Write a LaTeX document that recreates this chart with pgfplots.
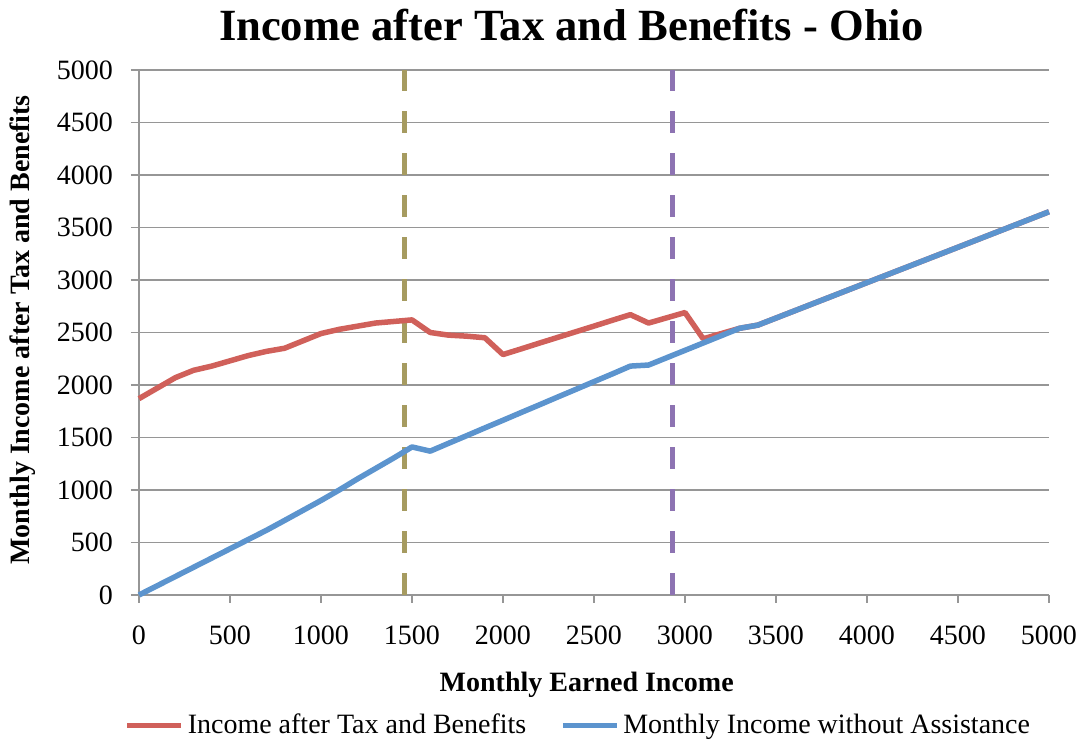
\documentclass[border=0pt]{standalone}
\usepackage{pgfplots}
\pgfplotsset{compat=1.18}
\usepackage{fontspec}
\setmainfont{Liberation Serif}
\definecolor{redline}{RGB}{208,96,90}
\definecolor{blueline}{RGB}{92,148,206}
\definecolor{oliveline}{RGB}{166,155,96}
\definecolor{purpleline}{RGB}{141,115,178}
\definecolor{gridgray}{RGB}{150,150,150}
\begin{document}
\begin{tikzpicture}
\useasboundingbox (0,0) rectangle (541pt,371pt);
\begin{axis}[
  at={(69.5pt,73.5pt)}, anchor=south west,
  scale only axis, width=455pt, height=262.5pt,
  xmin=0, xmax=5000, ymin=0, ymax=5000,
  xtick={0,500,...,5000}, ytick={0,500,...,5000},
  /pgf/number format/1000 sep={},
  /pgf/number format/assume math mode=true,
  axis x line*=bottom, axis y line*=left,
  axis line style={gridgray, line width=0.75pt},
  every tick/.style={gridgray, line width=0.75pt},
  tick align=outside, major tick length=4pt,
  ymajorgrids, major grid style={gridgray, line width=0.75pt},
  tick label style={font=\fontsize{14}{16}\selectfont},
  xticklabel style={yshift=-8pt},
  yticklabel style={xshift=-5.5pt},
  title={Income after Tax and Benefits - Ohio},
  title style={font=\fontsize{22.3}{26}\selectfont\bfseries, at={(axis description cs:0.475,1.086)}, anchor=center, yshift=-6pt},
  xlabel={Monthly Earned Income},
  xlabel style={font=\fontsize{14}{16}\selectfont\bfseries, at={(axis description cs:0.492,-0.172)}, anchor=center},
  ylabel={Monthly Income after Tax and Benefits},
  ylabel style={font=\fontsize{14}{16}\selectfont\bfseries, at={(axis description cs:-0.128,0.505)}, anchor=center},
  legend style={draw=none, fill=none, font=\fontsize{14}{16}\selectfont, at={(axis description cs:0.484,-0.248)}, anchor=center, legend columns=2, /tikz/every even column/.append style={column sep=15pt}, inner sep=0pt},
  legend image code/.code={\draw[#1, line width=2.5pt] (0pt,0pt) -- (27pt,0pt);},
  clip=false,
]
\addplot[oliveline, line width=2.5pt, dash pattern=on 11pt off 10pt, forget plot] coordinates {(1460,0) (1460,5000)};
\addplot[purpleline, line width=2.5pt, dash pattern=on 11pt off 10pt, forget plot] coordinates {(2930,0) (2930,5000)};
\addplot[redline, line width=2.75pt, line join=round] coordinates {
(0,1870) (100,1970) (200,2070) (300,2140) (400,2180) (500,2230) (600,2280) (700,2320) (800,2350) (900,2420) (1000,2490) (1100,2530) (1200,2560) (1300,2590) (1400,2605) (1500,2620) (1600,2500) (1700,2475) (1800,2465) (1900,2450) (2000,2290) (2100,2344) (2200,2399) (2300,2453) (2400,2507) (2500,2561) (2600,2616) (2700,2670) (2800,2590) (2900,2640) (3000,2690) (3100,2440) (3200,2490) (3300,2540) (3400,2570) (4000,2975) (4500,3312) (5000,3650)};
\addlegendentry{Income after Tax and Benefits}
\addplot[blueline, line width=2.75pt, line join=round] coordinates {
(0,0) (100,88) (200,176) (300,264) (400,352) (500,440) (600,528) (700,616) (800,710) (900,805) (1000,900) (1100,1000) (1200,1105) (1300,1205) (1400,1305) (1500,1410) (1600,1370) (1700,1444) (1800,1517) (1900,1591) (2000,1664) (2100,1738) (2200,1811) (2300,1885) (2400,1958) (2500,2032) (2600,2105) (2700,2180) (2800,2190) (2900,2260) (3000,2330) (3100,2400) (3200,2470) (3300,2540) (3400,2570) (4000,2975) (4500,3312) (5000,3650)};
\addlegendentry{Monthly Income without Assistance}
\end{axis}
\end{tikzpicture}
\end{document}
